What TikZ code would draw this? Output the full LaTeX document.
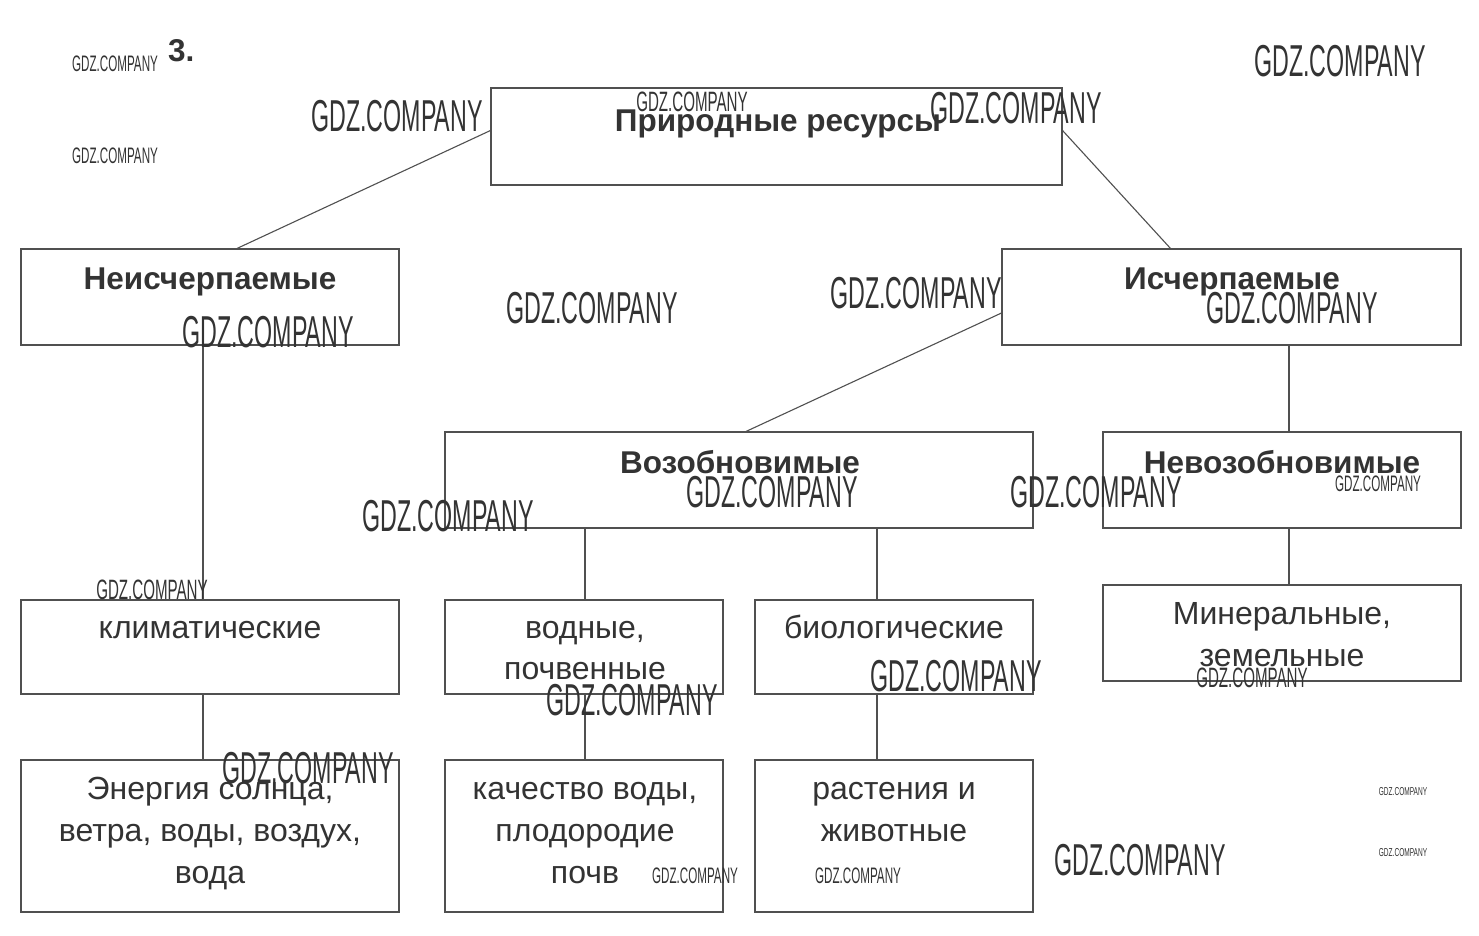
\documentclass[tikz,border=0pt]{standalone}
\usepackage{fontspec}
\setmainfont{Liberation Sans}
\usetikzlibrary{calc}
\definecolor{txt}{HTML}{333333}
\definecolor{ln}{HTML}{505050}
\begin{document}
\begin{tikzpicture}[x=1pt,y=-1pt,
  box/.style={draw=ln, line width=1.1pt, inner sep=0pt, fill=none},
  conn/.style={draw=ln, line width=1.1pt},
  hd/.style={anchor=base, inner sep=0pt, text=txt, font=\bfseries\fontsize{31.5}{36}\selectfont},
  tx/.style={anchor=base, inner sep=0pt, text=txt, font=\fontsize{32}{40}\selectfont},
  wm/.style={inner sep=0pt, text=black!80},
  wmL/.style={wm, xscale=0.52, font=\fontsize{44.7}{46}\selectfont},
  wmM/.style={wm, xscale=0.54, font=\fontsize{28}{30}\selectfont},
  wmS/.style={wm, xscale=0.52, font=\fontsize{22.4}{24}\selectfont},
  wmT/.style={wm, xscale=0.57, font=\fontsize{11.5}{12}\selectfont}]
\useasboundingbox[fill=white] (0,0) rectangle (1479,935);

% boxes
\node[box, minimum width=571pt, minimum height=97pt] (top) at (776.5,136.5) {};
\node[box, minimum width=378pt, minimum height=96pt] (nei) at (210,297) {};
\node[box, minimum width=459pt, minimum height=96pt] (isch) at (1231.5,297) {};
\node[box, minimum width=588pt, minimum height=96pt] (vozob) at (739,480) {};
\node[box, minimum width=358pt, minimum height=96pt] (nevoz) at (1282,480) {};
\node[box, minimum width=378pt, minimum height=94pt] (klim) at (210,647) {};
\node[box, minimum width=278pt, minimum height=94pt] (vod) at (584,647) {};
\node[box, minimum width=278pt, minimum height=94pt] (bio) at (894,647) {};
\node[box, minimum width=358pt, minimum height=96pt] (minr) at (1282,633) {};
\node[box, minimum width=378pt, minimum height=152pt] (en) at (210,836) {};
\node[box, minimum width=278pt, minimum height=152pt] (kach) at (584,836) {};
\node[box, minimum width=278pt, minimum height=152pt] (rast) at (894,836) {};

% connectors
\draw[conn] ($(top.west)+(0,-6)$) -- ($(nei.north)+(27,0)$);
\draw[conn] ($(top.east)+(0,-6)$) -- ($(isch.north)+(-61,0)$);
\draw[conn] ($(isch.west)+(0,16)$) -- ($(vozob.north)+(7,0)$);
\draw[conn] (isch.south -| 1289,0) -- (nevoz.north -| 1289,0);
\draw[conn] (nevoz.south -| 1289,0) -- (minr.north -| 1289,0);
\draw[conn] (nei.south -| 203,0) -- (klim.north -| 203,0);
\draw[conn] (klim.south -| 203,0) -- (en.north -| 203,0);
\draw[conn] (vozob.south -| 585,0) -- (vod.north -| 585,0);
\draw[conn] (vozob.south -| 877,0) -- (bio.north -| 877,0);
\draw[conn] (vod.south -| 585,0) -- (kach.north -| 585,0);
\draw[conn] (bio.south -| 877,0) -- (rast.north -| 877,0);

% texts
\node[hd, anchor=base west] (num) at (168,61) {3.};
\node[hd] (t1) at (778,131) {Природные ресурсы};
\node[hd] (t2) at (210,289) {Неисчерпаемые};
\node[hd] (t3) at (1232,289) {Исчерпаемые};
\node[hd] (t4) at (740,473) {Возобновимые};
\node[hd] (t5) at (1282,473) {Невозобновимые};
\node[tx] (t6) at (210,638) {климатические};
\node[tx] (t7a) at (585,638) {водные,};
\node[tx] (t7b) at (585,679) {почвенные};
\node[tx] (t8) at (894,638) {биологические};
\node[tx] (t9a) at (1282,624) {Минеральные,};
\node[tx] (t9b) at (1282,666) {земельные};
\node[tx] (t10a) at (210,799) {Энергия солнца,};
\node[tx] (t10b) at (210,841) {ветра, воды, воздух,};
\node[tx] (t10c) at (210,883) {вода};
\node[tx] (t11a) at (585,799) {качество воды,};
\node[tx] (t11b) at (585,841) {плодородие};
\node[tx] (t11c) at (585,883) {почв};
\node[tx] (t12a) at (894,799) {растения и};
\node[tx] (t12b) at (894,841) {животные};

% watermarks
\foreach \x/\y [count=\i] in {397/116,1016/108,1340/61,592/308,916/293,1292/308,268/332,448/516,772/492,1096/492,956/676,632/700,308/768,1140/860}
  \node[wmL] (wl\i) at (\x,\y) {GDZ.COMPANY};
\foreach \x/\y [count=\i] in {692/102,152/590,1252/678}
  \node[wmM] (wm\i) at (\x,\y) {GDZ.COMPANY};
\foreach \x/\y [count=\i] in {115/64,115/156,1378/484,695/876,858/876}
  \node[wmS] (ws\i) at (\x,\y) {GDZ.COMPANY};
\foreach \x/\y [count=\i] in {1403/792,1403/853}
  \node[wmT] (wt\i) at (\x,\y) {GDZ.COMPANY};
\end{tikzpicture}
\end{document}
